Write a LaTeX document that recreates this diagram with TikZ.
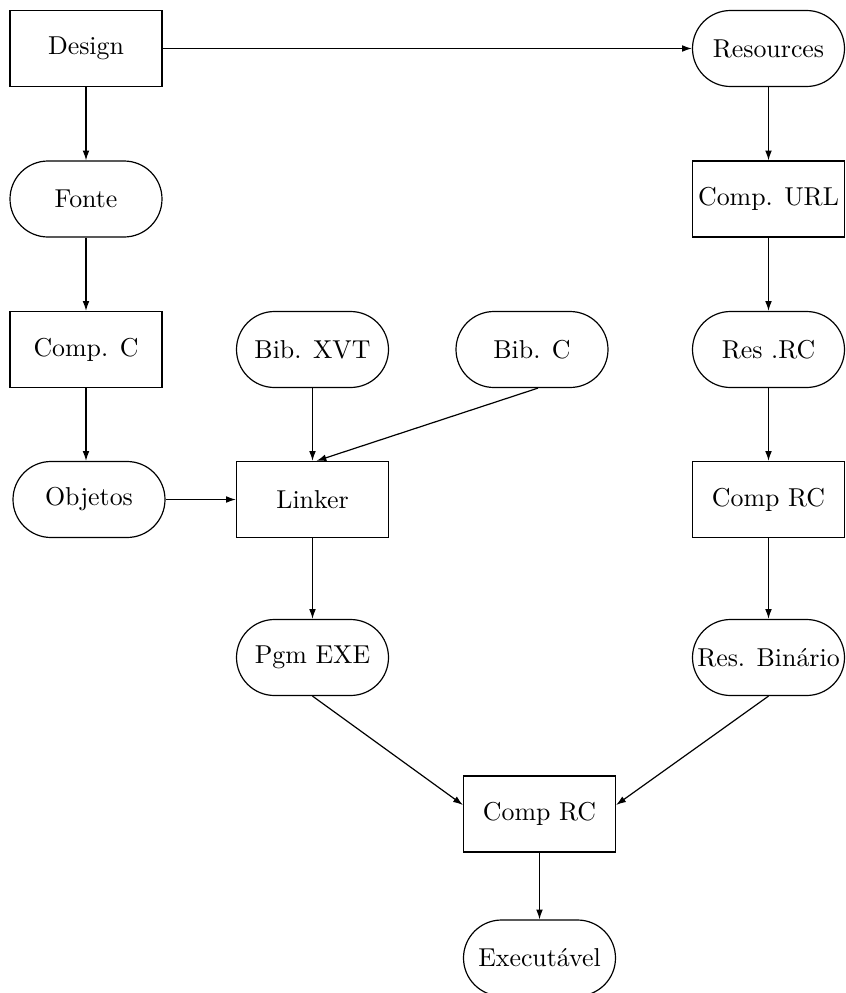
\documentclass[tikz,border=0pt]{standalone}
\usepackage{graphicx}
\usepackage{tikz}
\usetikzlibrary{arrows.meta}

% labels are set at 10pt and blown up, as in the printed figure
\newcommand{\lbl}[1]{\scalebox{1.84}{#1}}

\begin{document}
\begin{tikzpicture}[>={Latex[length=7pt,width=4.8pt]},
    every node/.style={font=\fontsize{10}{12}\selectfont},
    box/.style={draw, line width=0.85pt, minimum width=3.8cm, minimum height=1.9cm, inner xsep=0pt},
    oval/.style={box, rounded corners=0.95cm},
    flow/.style={->, line width=0.85pt}]
      \useasboundingbox (0,0) rectangle (21.125,-24.825);

      % left column
      \node[box]  (design)  at (2.15,-1.2125)   {\lbl{Design}};
      \node[oval] (fonte)   at (2.15,-4.975)    {\lbl{Fonte}};
      \node[box]  (compc)   at (2.15,-8.7375)   {\lbl{Comp. C}};
      \node[oval] (objetos) at (2.225,-12.4875) {\lbl{Objetos}};

      % libraries and linker
      \node[oval] (bibxvt) at (7.8125,-8.7375)  {\lbl{Bib. XVT}};
      \node[oval] (bibc)   at (13.3,-8.7375)    {\lbl{Bib. C}};
      \node[box]  (linker) at (7.8125,-12.4875) {\lbl{Linker}};
      \node[oval] (pgmexe) at (7.8125,-16.4375) {\lbl{Pgm EXE}};

      % resources column
      \node[oval] (resources) at (19.2125,-1.2125)  {\lbl{Resources}};
      \node[box]  (compurl)   at (19.2125,-4.975)   {\lbl{Comp. URL}};
      \node[oval] (resrc)     at (19.2125,-8.7375)  {\lbl{Res .RC}};
      \node[box]  (comprcres) at (19.2125,-12.4875) {\lbl{Comp RC}};
      \node[oval] (resbin)    at (19.2125,-16.4375) {\lbl{Res. Binário}};

      % final step
      \node[box]  (comprc) at (13.4875,-20.35) {\lbl{Comp RC}};
      \node[oval] (exec)   at (13.4875,-23.95) {\lbl{Executável}};

      % connectors
      \draw[flow] (design) -- (resources);
      \draw[flow] (design) -- (fonte);
      \draw[flow] (fonte) -- (compc);
      \draw[flow] (compc) -- (compc |- objetos.north);
      \draw[flow] (objetos) -- (linker);
      \draw[flow] (bibxvt) -- (linker);
      \draw[flow] ([xshift=0.15cm]bibc.south) -- ([xshift=0.1cm]linker.north);
      \draw[flow] (linker) -- (pgmexe);
      \draw[flow] (resources) -- (compurl);
      \draw[flow] (compurl) -- (resrc);
      \draw[flow] (resrc) -- (comprcres);
      \draw[flow] (comprcres) -- (resbin);
      \draw[flow] (pgmexe.south) -- ([yshift=0.225cm]comprc.west);
      \draw[flow] (resbin.south) -- ([yshift=0.225cm]comprc.east);
      \draw[flow] (comprc) -- (exec);
\end{tikzpicture}
\end{document}
